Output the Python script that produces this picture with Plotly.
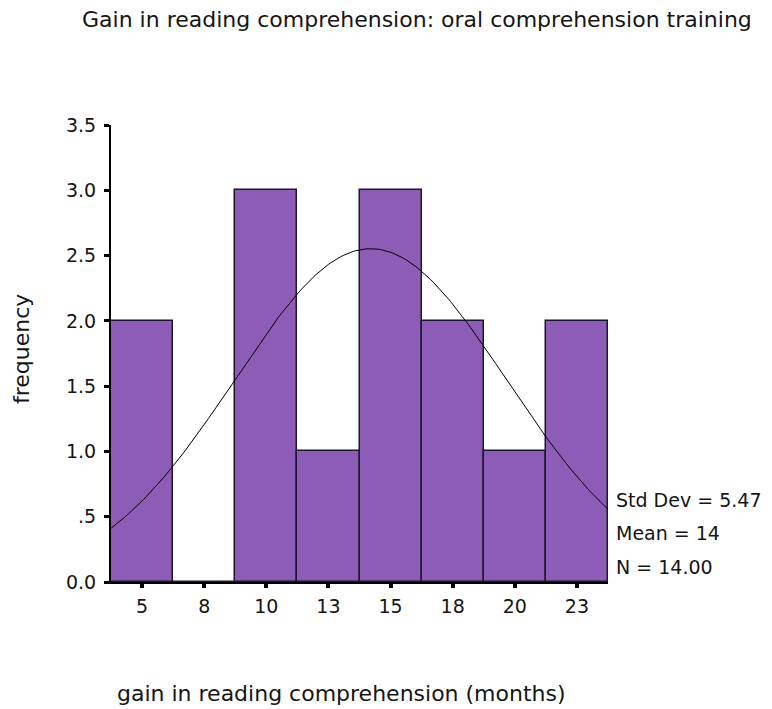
import numpy as np
import plotly.graph_objects as go

# ---- data ----
bin_centers = [5, 7.5, 10, 12.5, 15, 17.5, 20, 22.5]
tick_labels = ["5", "8", "10", "13", "15", "18", "20", "23"]
counts = [2, 0, 3, 1, 3, 2, 1, 2]
BIN_WIDTH = 2.5
STD_DEV = 5.47
MEAN = 14.2          # mean used for the fitted curve (shown rounded as 14)
N = 14
y_ticks = [0, 0.5, 1.0, 1.5, 2.0, 2.5, 3.0, 3.5]
y_tick_labels = ["0.0", ".5", "1.0", "1.5", "2.0", "2.5", "3.0", "3.5"]

x_lo = bin_centers[0] - BIN_WIDTH / 2
x_hi = bin_centers[-1] + BIN_WIDTH / 2
xs = np.linspace(x_lo, x_hi, 200)
curve = N * BIN_WIDTH / (STD_DEV * np.sqrt(2 * np.pi)) * np.exp(-0.5 * ((xs - MEAN) / STD_DEV) ** 2)

FONT = "DejaVu Sans, Arial, sans-serif"

# page layout (page has an 8px body margin)
PL, PT, PW, PH = 111, 125, 497, 457      # plot area in page pixels
FIG_W, FIG_H = 764, 701

def px(xp):
    return (xp - PL) / PW

def py(yp):
    return (PT + PH - yp) / PH

fig = go.Figure()
fig.add_trace(go.Bar(
    x=bin_centers, y=counts, width=BIN_WIDTH,
    marker=dict(color="#8c5cb6", line=dict(color="#1c1630", width=1.5)),
    showlegend=False, hoverinfo="skip",
))
fig.add_trace(go.Scatter(
    x=xs, y=curve, mode="lines",
    line=dict(color="black", width=1),
    showlegend=False, hoverinfo="skip",
))

fig.update_layout(
    width=FIG_W, height=FIG_H,
    margin=dict(l=PL - 8, r=FIG_W - (PL - 8) - PW, t=PT - 8, b=FIG_H - (PT - 8) - PH),
    paper_bgcolor="white", plot_bgcolor="white",
    font=dict(family=FONT, color="#151515", size=19),
    bargap=0,
    xaxis=dict(
        range=[x_lo, x_hi], tickmode="array", tickvals=bin_centers, ticktext=tick_labels,
        showgrid=False, zeroline=False, showline=True, linecolor="black", linewidth=2,
        ticks="outside", ticklen=4, tickwidth=4, tickcolor="black",
        tickfont=dict(size=19), ticklabelstandoff=2,
    ),
    yaxis=dict(
        range=[0, 3.5], tickmode="array", tickvals=y_ticks, ticktext=y_tick_labels,
        showgrid=False, zeroline=False, showline=True, linecolor="black", linewidth=2,
        ticks="outside", ticklen=5, tickwidth=3, tickcolor="black",
        tickfont=dict(size=19), ticklabelstandoff=4,
    ),
    annotations=[
        dict(text="Gain in reading comprehension: oral comprehension training",
             xref="paper", yref="paper", x=px(417), y=py(20),
             xanchor="center", yanchor="middle", showarrow=False, font=dict(size=22)),
        dict(text="frequency", xref="paper", yref="paper",
             x=px(21), y=py(349), textangle=-90,
             xanchor="center", yanchor="middle", showarrow=False, font=dict(size=22)),
        dict(text="gain in reading comprehension (months)", xref="paper", yref="paper",
             x=px(115), y=py(693),
             xanchor="left", yanchor="middle", showarrow=False, font=dict(size=22)),
        dict(text=f"Std Dev = {STD_DEV:.2f}", xref="paper", yref="paper",
             x=px(614), y=py(500), xanchor="left", yanchor="middle",
             showarrow=False, font=dict(size=19)),
        dict(text=f"Mean = {round(MEAN)}", xref="paper", yref="paper",
             x=px(614), y=py(533), xanchor="left", yanchor="middle",
             showarrow=False, font=dict(size=19)),
        dict(text=f"N = {N:.2f}", xref="paper", yref="paper",
             x=px(614), y=py(567), xanchor="left", yanchor="middle",
             showarrow=False, font=dict(size=19)),
    ],
)

fig.write_html("out.html")
